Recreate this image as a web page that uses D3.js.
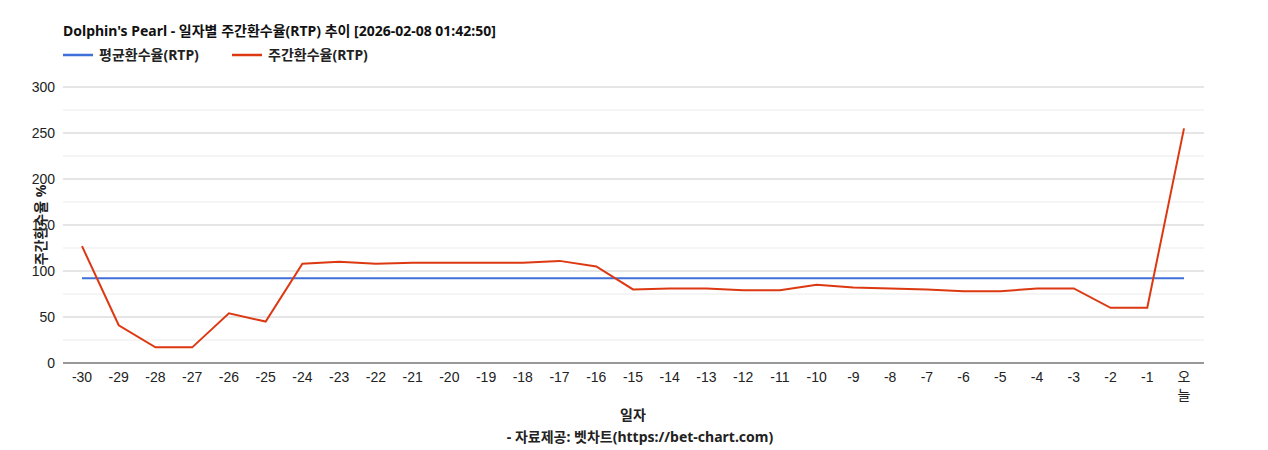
<!DOCTYPE html><html><head><meta charset="utf-8"><script src="https://cdn.jsdelivr.net/npm/d3@7"></script>
<style>body{margin:0;background:#fff;font-family:Arial,"Liberation Sans","Noto Sans CJK KR",sans-serif}.b{font-family:"Noto Sans","Noto Sans CJK KR",sans-serif}</style></head><body><svg id="c" width="1268" height="450"></svg>
<script>
const categories=["-30","-29","-28","-27","-26","-25","-24","-23","-22","-21","-20","-19","-18","-17","-16","-15","-14","-13","-12","-11","-10","-9","-8","-7","-6","-5","-4","-3","-2","-1","오늘"];
const weeklyRTP=[127,41,17,17,54,45,108,110,108,109,109,109,109,111,105,80,81,81,79,79,85,82,81,80,78,78,81,81,60,60,255];
const avgRTP=categories.map(()=>92);
const yTicks=[0,50,100,150,200,250,300];
const svg=d3.select("#c");
const L=63,R=1204,T=87,B=363;
const x=d3.scalePoint().domain(categories).range([82,1184]);
const y=d3.scaleLinear().domain([0,300]).range([B,T]);
const g=svg.append("g");
d3.range(25,301,50).forEach(v=>g.append("line").attr("x1",L).attr("x2",R).attr("y1",y(v)).attr("y2",y(v)).attr("stroke","#ebebeb"));
yTicks.forEach(v=>g.append("line").attr("x1",L).attr("x2",R).attr("y1",y(v)).attr("y2",y(v)).attr("stroke",v?"#cccccc":"#333"));
yTicks.forEach(v=>g.append("text").attr("x",L-8).attr("y",y(v)+5).attr("text-anchor","end").attr("font-size",14).attr("fill","#222").text(v));
categories.forEach(c=>{
 const t=g.append("text").attr("x",x(c)).attr("y",382).attr("text-anchor","middle").attr("font-size",14).attr("fill","#222");
 if(c==="오늘"){t.append("tspan").attr("x",x(c)).text("오");t.append("tspan").attr("x",x(c)).attr("dy",18).text("늘");} else t.text(c);
});
const line=d3.line().x((d,i)=>x(categories[i])).y(d=>y(d));
g.append("path").datum(avgRTP).attr("d",line).attr("fill","none").attr("stroke","#3f6fd8").attr("stroke-width",2);
g.append("path").datum(weeklyRTP).attr("d",line).attr("fill","none").attr("stroke","#dc3912").attr("stroke-width",2);
svg.append("text").attr("class","b").attr("x",63).attr("y",36).attr("font-size",14).attr("font-weight","bold").attr("fill","#111").text("Dolphin's Pearl - 일자별 주간환수율(RTP) 추이 [2026-02-08 01:42:50]");
const leg=[["평균환수율(RTP)","#3f6fd8",63],["주간환수율(RTP)","#dc3912",232]];
leg.forEach(([t,c,lx])=>{svg.append("line").attr("x1",lx).attr("x2",lx+30).attr("y1",55).attr("y2",55).attr("stroke",c).attr("stroke-width",2.5);
 svg.append("text").attr("class","b").attr("x",lx+36).attr("y",60).attr("font-size",14).attr("font-weight","bold").attr("fill","#222").text(t);});
svg.append("text").attr("class","b").attr("transform","translate(46,225) rotate(-90)").attr("text-anchor","middle").attr("font-size",14).attr("font-weight","bold").attr("fill","#222").text("주간환수율 %");
svg.append("text").attr("class","b").attr("x",633).attr("y",420).attr("text-anchor","middle").attr("font-size",14).attr("font-weight","bold").attr("fill","#222").text("일자");
svg.append("text").attr("class","b").attr("x",640).attr("y",442).attr("text-anchor","middle").attr("font-size",14).attr("font-weight","bold").attr("fill","#222").text("- 자료제공: 벳차트(https://bet-chart.com)");
</script></body></html>
